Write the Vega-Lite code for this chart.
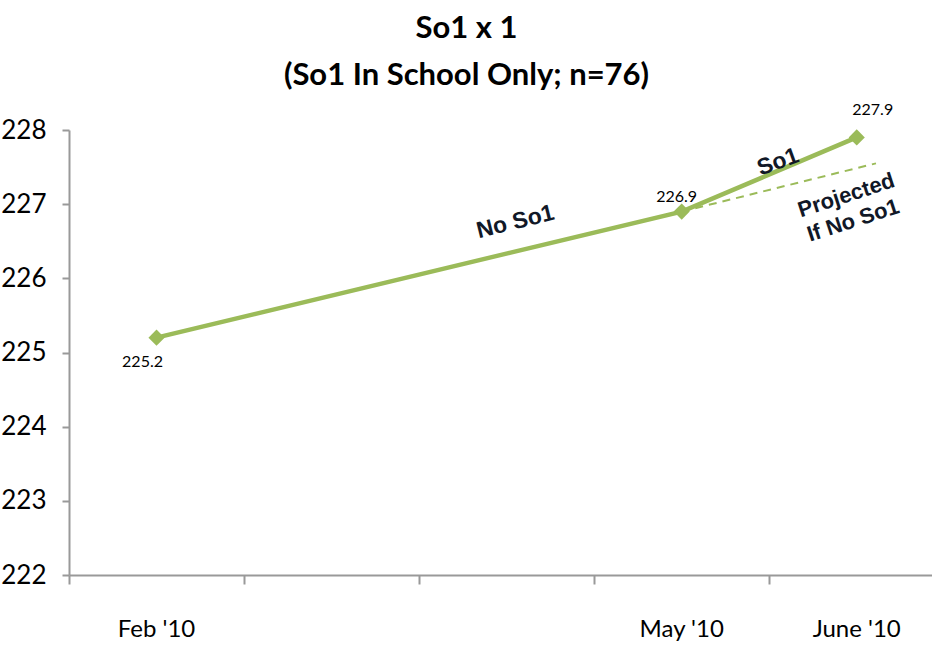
{
  "$schema": "https://vega.github.io/schema/vega-lite/v6.json",
  "autosize": "none",
  "width": 863,
  "height": 445,
  "padding": {"left": 69, "top": 130, "right": 0, "bottom": 75},
  "background": "white",
  "config": {"view": {"stroke": null}, "font": "Lato"},
  "title": {
    "text": ["So1 x 1", "(So1 In School Only; n=76)"],
    "font": "Lato",
    "fontSize": 31,
    "fontWeight": "bold",
    "lineHeight": 47,
    "anchor": "middle",
    "dx": -34,
    "offset": 10,
    "color": "black"
  },
  "datasets": {
    "scores": [
      {"month": 1, "label": "Feb '10", "score": 225.2},
      {"month": 4, "label": "May '10", "score": 226.9},
      {"month": 5, "label": "June '10", "score": 227.9}
    ],
    "projection": [
      {"month": 4, "score": 226.9},
      {"month": 5.11, "score": 227.55}
    ]
  },
  "layer": [
    {
      "data": {"name": "scores"},
      "mark": {"type": "line", "color": "#9BBB59", "strokeWidth": 4.5},
      "encoding": {
        "x": {
          "field": "month", "type": "quantitative",
          "scale": {"domain": [0.5, 5.43], "nice": false, "zero": false},
          "axis": {
            "values": [0.5, 1.5, 2.5, 3.5, 4.5],
            "labels": false, "grid": false, "title": null,
            "domainColor": "#999999", "domainWidth": 2,
            "tickColor": "#999999", "tickWidth": 2, "tickSize": 9
          }
        },
        "y": {
          "field": "score", "type": "quantitative",
          "scale": {"domain": [222, 228], "nice": false, "zero": false},
          "axis": {
            "values": [222, 223, 224, 225, 226, 227, 228],
            "format": "d",
            "grid": false, "title": null,
            "domainColor": "#999999", "domainWidth": 2,
            "tickColor": "#999999", "tickWidth": 2, "tickSize": 7,
            "labelFont": "Lato", "labelFontSize": 26,
            "labelColor": "black", "labelPadding": 16
          }
        }
      }
    },
    {
      "data": {"name": "projection"},
      "mark": {"type": "line", "color": "#9BBB59", "strokeWidth": 2, "strokeDash": [8, 6]},
      "encoding": {
        "x": {"field": "month", "type": "quantitative"},
        "y": {"field": "score", "type": "quantitative"}
      }
    },
    {
      "data": {"name": "scores"},
      "mark": {"type": "point", "shape": "diamond", "filled": true, "color": "#9BBB59", "size": 260, "opacity": 1},
      "encoding": {
        "x": {"field": "month", "type": "quantitative"},
        "y": {"field": "score", "type": "quantitative"}
      }
    },
    {
      "data": {"name": "scores"},
      "transform": [{"filter": "datum.month == 1"}],
      "mark": {"type": "text", "font": "Lato", "fontSize": 16, "color": "black", "dx": -14, "dy": 24},
      "encoding": {
        "x": {"field": "month", "type": "quantitative"},
        "y": {"field": "score", "type": "quantitative"},
        "text": {"field": "score", "type": "quantitative", "format": ".1f"}
      }
    },
    {
      "data": {"name": "scores"},
      "transform": [{"filter": "datum.month == 4"}],
      "mark": {"type": "text", "font": "Lato", "fontSize": 16, "color": "black", "dx": -5, "dy": -15},
      "encoding": {
        "x": {"field": "month", "type": "quantitative"},
        "y": {"field": "score", "type": "quantitative"},
        "text": {"field": "score", "type": "quantitative", "format": ".1f"}
      }
    },
    {
      "data": {"name": "scores"},
      "transform": [{"filter": "datum.month == 5"}],
      "mark": {"type": "text", "font": "Lato", "fontSize": 16, "color": "black", "dx": 16, "dy": -27},
      "encoding": {
        "x": {"field": "month", "type": "quantitative"},
        "y": {"field": "score", "type": "quantitative"},
        "text": {"field": "score", "type": "quantitative", "format": ".1f"}
      }
    },
    {
      "data": {"name": "scores"},
      "mark": {"type": "text", "font": "Lato", "fontSize": 24, "color": "black", "baseline": "middle", "dy": 55},
      "encoding": {
        "x": {"field": "month", "type": "quantitative"},
        "y": {"datum": 222},
        "text": {"field": "label"}
      }
    },
    {
      "data": {"values": [{"x": 3.05, "y": 226.76, "t": "No So1"}]},
      "mark": {"type": "text", "font": "Liberation Sans", "fontWeight": "bold", "fontSize": 23, "color": "#111827", "angle": -14},
      "encoding": {
        "x": {"field": "x", "type": "quantitative"},
        "y": {"field": "y", "type": "quantitative"},
        "text": {"field": "t"}
      }
    },
    {
      "data": {"values": [{"x": 4.55, "y": 227.57, "t": "So1"}]},
      "mark": {"type": "text", "font": "Liberation Sans", "fontWeight": "bold", "fontSize": 23, "color": "#111827", "angle": -20},
      "encoding": {
        "x": {"field": "x", "type": "quantitative"},
        "y": {"field": "y", "type": "quantitative"},
        "text": {"field": "t"}
      }
    },
    {
      "data": {"values": [{"x": 4.94, "y": 227.12, "t": "Projected"}, {"x": 4.98, "y": 226.78, "t": "If No So1"}]},
      "mark": {"type": "text", "font": "Liberation Sans", "fontWeight": "bold", "fontSize": 22, "color": "#111827", "angle": -18},
      "encoding": {
        "x": {"field": "x", "type": "quantitative"},
        "y": {"field": "y", "type": "quantitative"},
        "text": {"field": "t"}
      }
    }
  ]
}
